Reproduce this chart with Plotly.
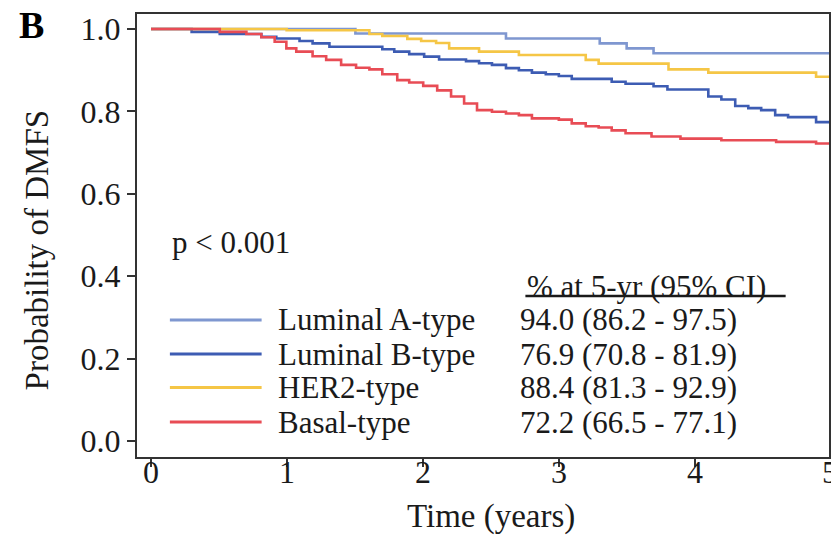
import plotly.graph_objects as go

# ---- data ----
groups = ["Luminal A-type", "Luminal B-type", "HER2-type", "Basal-type"]
ci_text = ["94.0 (86.2 - 97.5)", "76.9 (70.8 - 81.9)", "88.4 (81.3 - 92.9)", "72.2 (66.5 - 77.1)"]

lumA_t = [0, 1.504, 2.612, 3.302, 3.500, 3.698, 5.0]
lumA_s = [1.0, 0.989, 0.977, 0.965, 0.953, 0.941, 0.941]

lumB_t = [0, 0.299, 0.506, 0.812, 0.922, 1.093, 1.189, 1.313, 1.702, 1.790, 1.900, 2.010,
          2.120, 2.318, 2.414, 2.509, 2.612, 2.707, 2.803, 2.905, 3.001, 3.096, 3.390,
          3.492, 3.698, 3.800, 4.101, 4.197, 4.299, 4.395, 4.490, 4.593, 4.688, 4.894, 5.0]
lumB_s = [1.0, 0.993, 0.988, 0.981, 0.977, 0.971, 0.965, 0.957, 0.951, 0.945, 0.939, 0.933,
          0.926, 0.922, 0.917, 0.913, 0.905, 0.900, 0.894, 0.890, 0.886, 0.879, 0.872,
          0.867, 0.861, 0.853, 0.836, 0.829, 0.813, 0.808, 0.803, 0.791, 0.786, 0.774, 0.769]

her2_t = [0, 0.998, 1.607, 1.702, 1.886, 1.988, 2.098, 2.194, 2.414, 2.707, 3.199, 3.294,
          3.808, 4.101, 4.894, 5.0]
her2_s = [1.0, 0.997, 0.988, 0.983, 0.976, 0.971, 0.966, 0.953, 0.945, 0.937, 0.925, 0.916,
          0.902, 0.894, 0.884, 0.884]

basal_t = [0, 0.506, 0.702, 0.812, 0.910, 0.996, 1.069, 1.189, 1.289, 1.399, 1.509, 1.607,
           1.702, 1.812, 1.900, 2.003, 2.106, 2.208, 2.304, 2.399, 2.509, 2.612, 2.707,
           2.803, 3.001, 3.096, 3.199, 3.294, 3.390, 3.492, 3.683, 3.896, 4.197, 4.600,
           4.894, 5.0]
basal_s = [1.0, 0.993, 0.988, 0.980, 0.969, 0.953, 0.945, 0.934, 0.925, 0.913, 0.906, 0.902,
           0.890, 0.876, 0.870, 0.862, 0.851, 0.836, 0.819, 0.803, 0.799, 0.795, 0.791,
           0.783, 0.780, 0.771, 0.764, 0.761, 0.754, 0.747, 0.739, 0.734, 0.730, 0.726,
           0.722, 0.722]

x_ticks = [0, 1, 2, 3, 4, 5]
y_ticks = [0.0, 0.2, 0.4, 0.6, 0.8, 1.0]

colors = ["#7f97d0", "#3d5cb3", "#f5c646", "#e84c55"]
series = [(lumA_t, lumA_s), (lumB_t, lumB_s), (her2_t, her2_s), (basal_t, basal_s)]

FONT = "Liberation Serif"
TXT = "#1a1a1a"
X0, X1 = -0.103, 4.989

fig = go.Figure()
for (t, s), name, c in zip(series, groups, colors):
    fig.add_trace(go.Scatter(x=t, y=s, mode="lines", line=dict(color=c, width=2.6, shape="hv"),
                             name=name, showlegend=False, hoverinfo="skip"))

# manual legend (positions in data units)
leg_y = [0.294, 0.211, 0.130, 0.046]
for yy, name, c, ci in zip(leg_y, groups, colors, ci_text):
    fig.add_shape(type="line", xref="x", yref="y", x0=0.139, x1=0.814, y0=yy, y1=yy,
                  line=dict(color=c, width=3))
    fig.add_annotation(x=0.92, y=yy, xref="x", yref="y", text=name, showarrow=False,
                       xanchor="left", yanchor="middle", font=dict(family=FONT, size=31, color=TXT))
    fig.add_annotation(x=2.70, y=yy, xref="x", yref="y", text=ci, showarrow=False,
                       xanchor="left", yanchor="middle", font=dict(family=FONT, size=31, color=TXT))

fig.add_annotation(x=2.755, y=0.376, xref="x", yref="y", text="% at 5-yr (95% CI)", showarrow=False,
                   xanchor="left", yanchor="middle", font=dict(family=FONT, size=31, color=TXT))
fig.add_shape(type="line", xref="x", yref="y", x0=2.755, x1=4.67, y0=0.352, y1=0.352,
              line=dict(color=TXT, width=2.5))
fig.add_annotation(x=0.14, y=0.482, xref="x", yref="y", text="p < 0.001", showarrow=False,
                   xanchor="left", yanchor="middle", font=dict(family=FONT, size=31, color=TXT))

# x tick labels as annotations (the last one is cut off by the page edge)
for v in x_ticks:
    fig.add_annotation(x=(v - X0) / (X1 - X0), y=-0.033, xref="paper", yref="paper", text=str(v),
                       showarrow=False, xanchor="center", yanchor="middle",
                       font=dict(family=FONT, size=32, color=TXT))

# axis titles, panel letter
fig.add_annotation(x=-0.1441, y=0.467, xref="paper", yref="paper", text="Probability of DMFS",
                   textangle=-90, showarrow=False, xanchor="center", yanchor="middle",
                   font=dict(family=FONT, size=33, color=TXT))
fig.add_annotation(x=0.5115, y=-0.135, xref="paper", yref="paper", text="Time (years)",
                   showarrow=False, xanchor="center", yanchor="middle",
                   font=dict(family=FONT, size=33, color=TXT))
fig.add_annotation(x=-0.153, y=0.975, xref="paper", yref="paper", text="<b>B</b>",
                   showarrow=False, xanchor="center", yanchor="middle",
                   font=dict(family=FONT, size=38, color="#000"))

fig.update_layout(
    width=831, height=536,
    margin=dict(l=137, r=0, t=14, b=79),
    paper_bgcolor="white", plot_bgcolor="white",
    showlegend=False,
)
fig.update_xaxes(range=[X0, X1], tickvals=x_ticks, showticklabels=False,
                 showgrid=False, zeroline=False, showline=True, linecolor="#333", linewidth=2,
                 mirror=True, ticks="outside", ticklen=8, tickwidth=2, tickcolor="#333")
fig.update_yaxes(range=[-0.0388, 1.0364], tickvals=y_ticks, ticktext=[f"{v:.1f}" for v in y_ticks],
                 showgrid=False, zeroline=False, showline=True, linecolor="#333", linewidth=2,
                 mirror=True, ticks="outside", ticklen=8, tickwidth=2, tickcolor="#333",
                 tickfont=dict(family=FONT, size=32, color=TXT))

fig.write_html("out.html")
